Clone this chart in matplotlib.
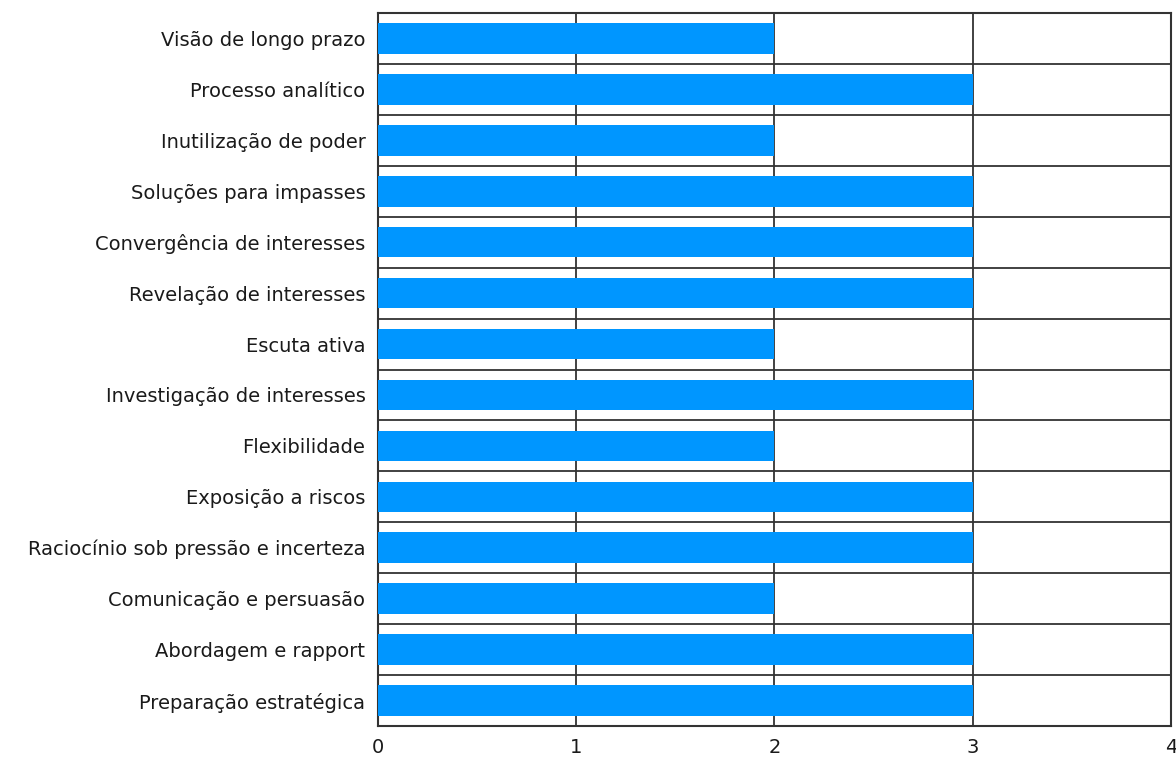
import numpy as np
import matplotlib
matplotlib.use('Agg')
import matplotlib.pyplot as plt

# categorias (de cima para baixo) e valores
categorias = ['Visão de longo prazo', 'Processo analítico', 'Inutilização de poder',
              'Soluções para impasses', 'Convergência de interesses',
              'Revelação de interesses', 'Escuta ativa', 'Investigação de interesses',
              'Flexibilidade', 'Exposição a riscos',
              'Raciocínio sob pressão e incerteza', 'Comunicação e persuasão',
              'Abordagem e rapport', 'Preparação estratégica']
valores = [2, 3, 2, 3, 3, 3, 2, 3, 2, 3, 3, 2, 3, 3]
xticks = [0, 1, 2, 3, 4]

plt.rcParams['font.family'] = ['DejaVu Sans']

fig = plt.figure(figsize=(11.76, 7.61), dpi=100, facecolor='w')
ax = fig.add_axes([0.3214, 0.046, 0.6743, 0.9369])

n = len(categorias)
ypos = np.arange(n)[::-1]
ax.barh(ypos, valores, height=0.6, color='#0096ff', zorder=3)

ax.set_xlim(0, 4)
ax.set_ylim(-0.5, n - 0.5)
ax.set_xticks(xticks)
ax.set_xticklabels([str(t) for t in xticks], fontsize=14, color='#1a1a1a')
ax.set_yticks(ypos)
ax.set_yticklabels(categorias, fontsize=14, color='#1a1a1a')
ax.set_yticks(np.arange(n - 1) + 0.5, minor=True)
ax.tick_params(axis='both', which='both', length=0)
ax.tick_params(axis='x', pad=9)
ax.tick_params(axis='y', pad=9)

ax.grid(axis='x', which='major', color='#333333', lw=1.3, zorder=1)
ax.grid(axis='y', which='minor', color='#333333', lw=1.3, zorder=1)
for s in ax.spines.values():
    s.set_color('#333333')
    s.set_linewidth(1.5)

fig.savefig('out.png', dpi=100, facecolor='w')
